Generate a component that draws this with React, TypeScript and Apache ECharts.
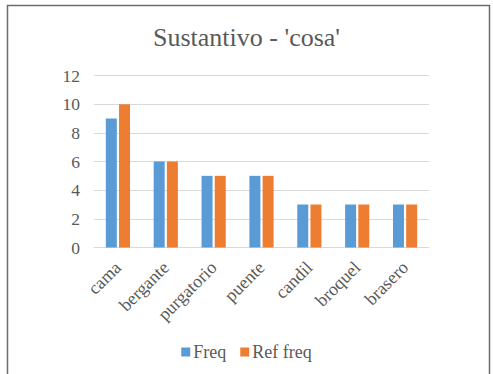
import React, { useEffect, useRef } from "react";
import * as echarts from "echarts";

const categories = ["cama", "bergante", "purgatorio", "puente", "candil", "broquel", "brasero"];
const freq = [9, 6, 5, 5, 3, 3, 3];
const refFreq = [10, 6, 5, 5, 3, 3, 3];
const seriesNames = ["Freq", "Ref freq"];
const titleText = "Sustantivo - 'cosa'";

const FONT = "Liberation Serif";
const TEXT = "#595959";

export default function App() {
  const ref = useRef<HTMLDivElement>(null);

  useEffect(() => {
    if (!ref.current) return;
    const chart = echarts.init(ref.current, null, { renderer: "svg" });
    chart.setOption({
      animation: false,
      backgroundColor: "#ffffff",
      textStyle: { fontFamily: FONT },
      title: {
        text: titleText,
        left: "center",
        top: 19,
        textStyle: { fontFamily: FONT, fontSize: 26, fontWeight: "normal", color: TEXT },
      },
      grid: { left: 94, right: 64, top: 75.5, bottom: 126.5, containLabel: false },
      legend: {
        data: seriesNames,
        bottom: 8,
        left: "center",
        itemWidth: 9,
        itemHeight: 9,
        itemGap: 14,
        icon: "rect",
        textStyle: { fontFamily: FONT, fontSize: 18, color: TEXT, padding: [0, 0, 0, -2] },
      },
      xAxis: {
        type: "category",
        data: categories,
        axisLine: { lineStyle: { color: "#d9d9d9", width: 1 } },
        axisTick: { show: false },
        axisLabel: {
          rotate: 45,
          interval: 0,
          margin: 17,
          fontFamily: FONT,
          fontSize: 18,
          color: TEXT,
        },
      },
      yAxis: {
        type: "value",
        min: 0,
        max: 12,
        interval: 2,
        axisLine: { show: false },
        axisTick: { show: false },
        splitLine: { lineStyle: { color: "#d9d9d9", width: 1 } },
        axisLabel: { fontFamily: FONT, fontSize: 17.5, color: TEXT, margin: 14 },
      },
      series: [
        {
          name: seriesNames[0],
          type: "bar",
          data: freq,
          barWidth: 11,
          barGap: "20%",
          itemStyle: { color: "#5b9bd5" },
        },
        {
          name: seriesNames[1],
          type: "bar",
          data: refFreq,
          barWidth: 11,
          itemStyle: { color: "#ed7d31" },
        },
      ],
      graphic: [
        {
          type: "rect",
          shape: { x: 7.5, y: 5.5, width: 482, height: 380 },
          style: { fill: "none", stroke: "#6b6b6b", lineWidth: 1.5 },
          silent: true,
        },
      ],
    });
    return () => chart.dispose();
  }, []);

  return (
    <div
      ref={ref}
      style={{ position: "absolute", left: 0, top: 0, width: 493, height: 374 }}
    />
  );
}
